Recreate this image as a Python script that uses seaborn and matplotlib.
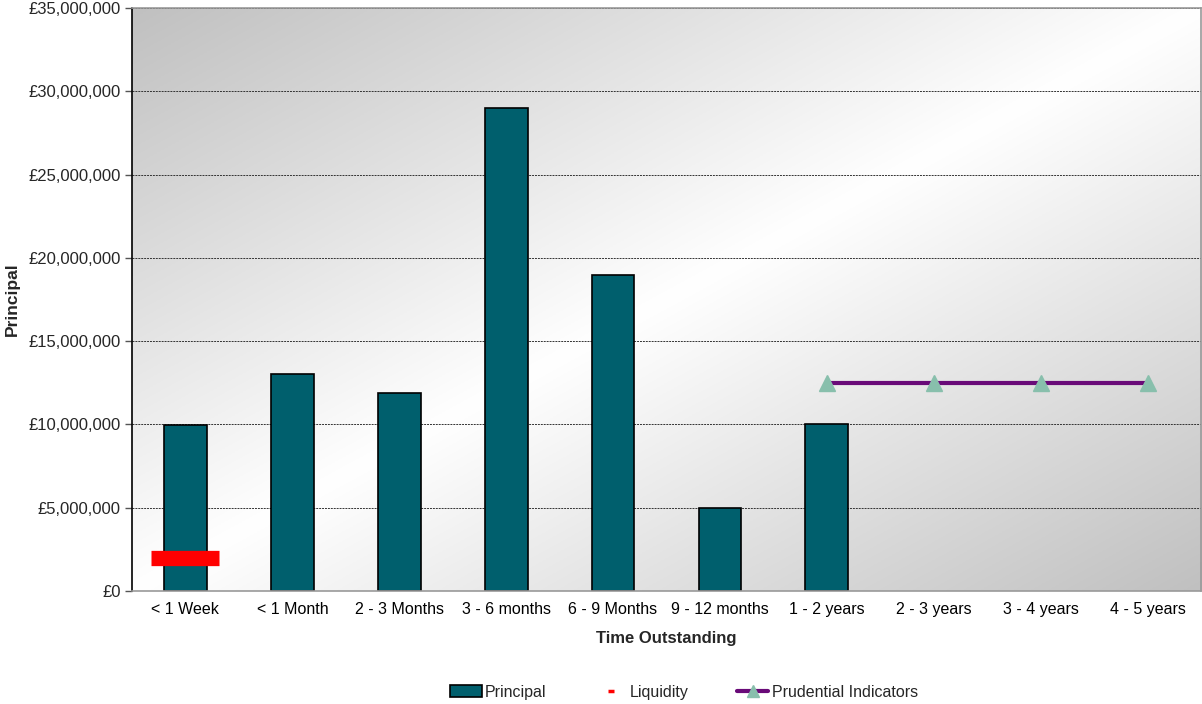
import numpy as np
import pandas as pd
import matplotlib
matplotlib.use("Agg")
import matplotlib.pyplot as plt
from matplotlib.lines import Line2D
from matplotlib.patches import Patch
from matplotlib.ticker import FuncFormatter, MultipleLocator
import seaborn as sns

categories = ["< 1 Week", "< 1 Month", "2 - 3 Months", "3 - 6 months", "6 - 9 Months",
              "9 - 12 months", "1 - 2 years", "2 - 3 years", "3 - 4 years", "4 - 5 years"]
principal_cats = ["< 1 Week", "< 1 Month", "2 - 3 Months", "3 - 6 months", "6 - 9 Months",
                  "9 - 12 months", "1 - 2 years"]
principal = [9950000, 13000000, 11900000, 29000000, 19000000, 5000000, 10000000]
liquidity_cats = ["< 1 Week"]
liquidity = [2000000]
prudential_cats = ["1 - 2 years", "2 - 3 years", "3 - 4 years", "4 - 5 years"]
prudential = [12500000, 12500000, 12500000, 12500000]

sns.set_theme(style="white")
plt.rcParams['font.family'] = ['Liberation Sans', 'DejaVu Sans']

fig = plt.figure(figsize=(12.02, 7.04), dpi=100)
ax = fig.add_axes([0.1098, 0.1605, 0.8894, 0.8281])

df = pd.DataFrame({"cat": principal_cats, "val": principal})
sns.barplot(data=df, x="cat", y="val", order=categories, color="#005F6D",
            saturation=1, width=0.4, edgecolor="black", linewidth=1.2, ax=ax, zorder=3)

pos = {c: i for i, c in enumerate(categories)}
ax.plot([pos[c] for c in liquidity_cats], liquidity, linestyle="none", marker="_",
        markersize=49, markeredgewidth=11, color="#FF0000", zorder=4)
ax.plot([pos[c] for c in prudential_cats], prudential, color="#690A78", linewidth=3,
        marker="^", markersize=12, markerfacecolor="#88BFAC", markeredgecolor="#88BFAC",
        zorder=4)

ax.set_xlim(-0.5, 9.5)
ax.set_ylim(0, 35000000)

# gradient background
n = 300
u = np.linspace(0, 1, n)
U, V = np.meshgrid(u, u)  # V: 0 at top
t = (U + V) / 2
g = 1 - np.abs(t - 0.5) * 2
shade = 192 / 255 + (1 - 192 / 255) * g
img = np.dstack([shade, shade, shade])
ax.imshow(img, extent=[-0.5, 9.5, 0, 35000000], origin="upper", aspect="auto", zorder=0)

ax.yaxis.set_major_locator(MultipleLocator(5000000))
ax.yaxis.set_major_formatter(FuncFormatter(lambda v, p: "£{:,.0f}".format(v)))
ax.grid(axis="y", color="#333333", linestyle=(0, (2, 1)), linewidth=0.7, zorder=1)
ax.set_axisbelow(False)

ax.set_xticks(range(len(categories)))
ax.set_xticklabels(categories)
ax.set_xticks(np.arange(-0.5, 10, 1), minor=True)
ax.tick_params(axis="x", which="major", length=0, pad=8, labelsize=11.5, colors="black")
ax.tick_params(axis="x", which="minor", length=5, width=1, color="#777777", direction="out")
ax.tick_params(axis="y", which="major", length=5, width=1, color="#555555", direction="out",
               left=True, labelsize=12, pad=3)

for s in ["top", "right", "bottom"]:
    ax.spines[s].set_color("#999999")
    ax.spines[s].set_linewidth(1.2)
ax.spines["left"].set_color("black")
ax.spines["left"].set_linewidth(1.2)
for s in ax.spines.values():
    s.set_zorder(5)

ax.set_xlabel("Time Outstanding", fontsize=12, fontweight="bold", labelpad=10)
ax.set_ylabel("Principal", fontsize=12.5, fontweight="bold", labelpad=6)

handles = [
    Patch(facecolor="#005F6D", edgecolor="black", linewidth=1.2, label="Principal"),
    Line2D([], [], linestyle="none", marker="_", markersize=5, markeredgewidth=2.5,
           color="#FF0000", label="Liquidity"),
    Line2D([], [], color="#690A78", linewidth=3, marker="^", markersize=8,
           markerfacecolor="#88BFAC", markeredgecolor="#88BFAC", label="Prudential Indicators"),
]
fig.legend(handles=handles, loc="center", bbox_to_anchor=(0.569, 0.017), ncol=3,
           frameon=False, fontsize=11.5, handlelength=2.0, handletextpad=0.2, columnspacing=3.0)

fig.savefig("out.png", dpi=100)
